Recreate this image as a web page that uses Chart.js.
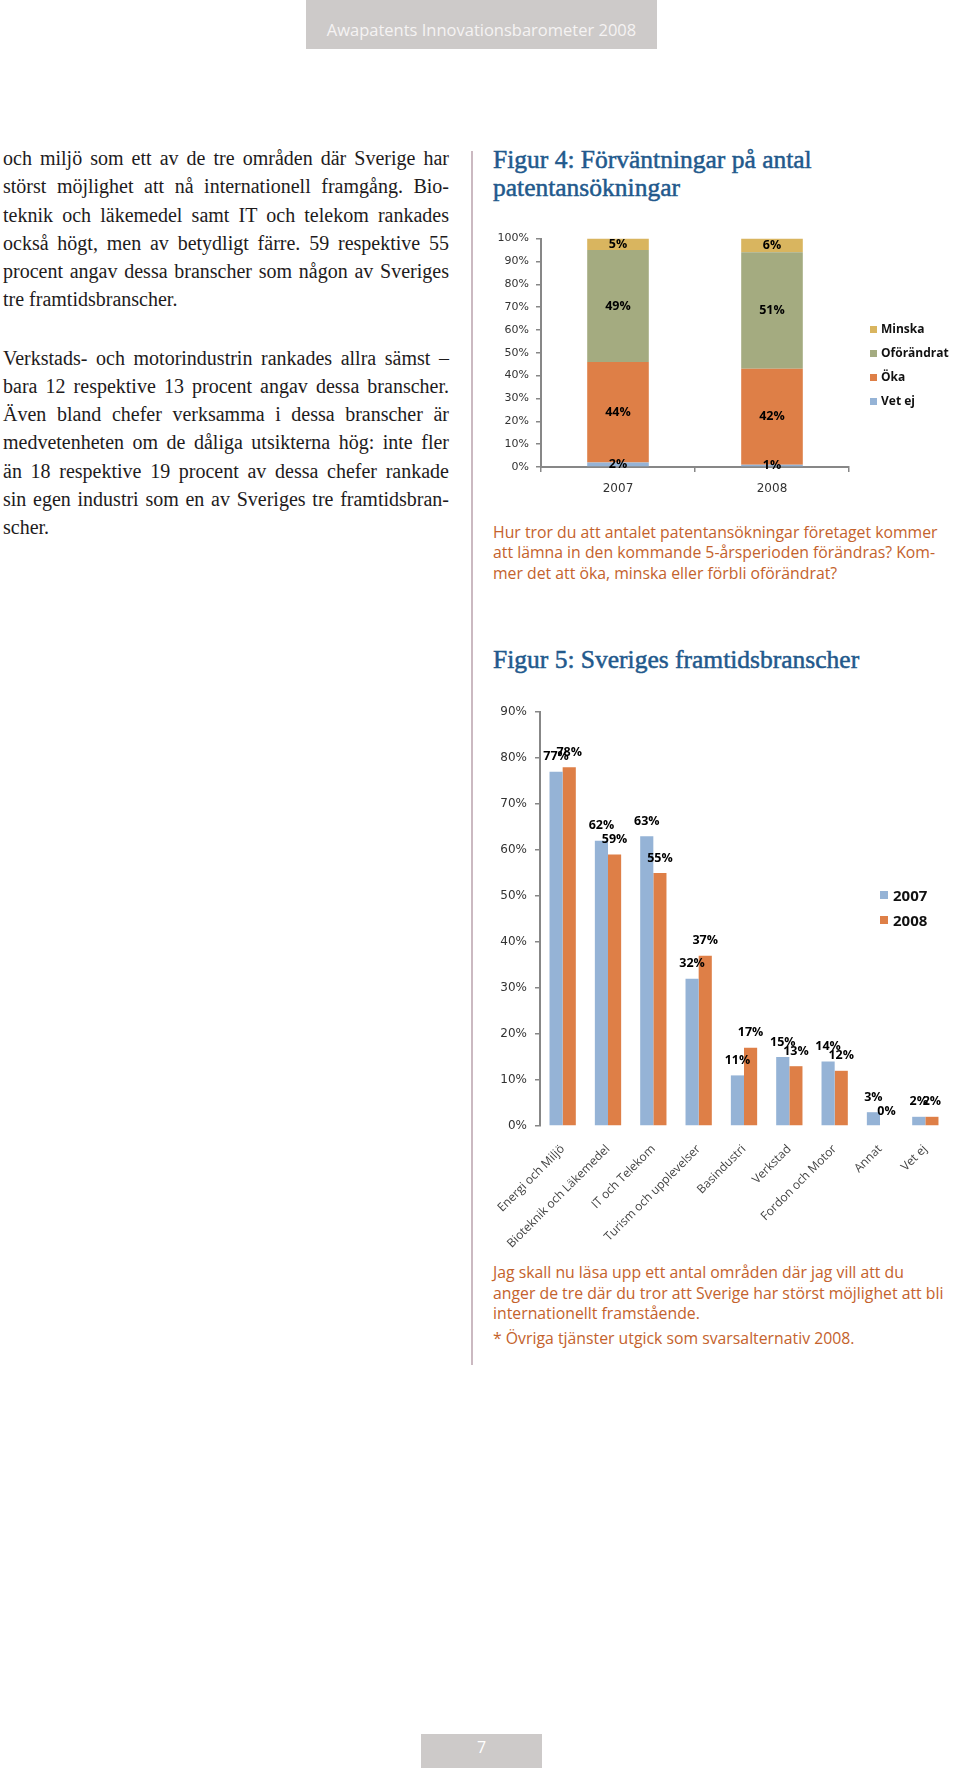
<!DOCTYPE html>
<html lang="sv">
<head>
<meta charset="utf-8">
<title>Awapatents Innovationsbarometer 2008 – sida 7</title>
<script src="https://cdn.jsdelivr.net/npm/chart.js@4.4.1/dist/chart.umd.min.js"></script>
<style>
  html, body { margin: 0; padding: 0; background: #fff; }
  body { width: 960px; height: 1768px; position: relative; overflow: hidden; }
  .abs { position: absolute; }
  .header { left: 306px; top: 0; width: 351px; height: 49px; background: #cdcac9;
    color: #f5f3f3; font: 16.5px "Open Sans", sans-serif; text-align: center;
    line-height: 40px; padding-top: 10px; box-sizing: border-box; }
  .pageno { left: 421px; top: 1734px; width: 121px; height: 34px; background: #cdcac9;
    color: #fff; font: 16px "Open Sans", sans-serif; text-align: center; line-height: 26px; }
  .body-text { left: 3px; width: 446px; font: 20px "Liberation Serif", serif; color: #1e1b1c; line-height: 28.3px; }
  .body-text div { text-align: justify; text-align-last: justify; }
  .body-text div.last { text-align-last: left; }
  .divider { left: 471px; top: 151px; width: 2px; height: 1214px; background: #cbb9c1; }
  .title { left: 493px; font: 25.5px "Liberation Serif", serif; color: #22598c; line-height: 28px;
    white-space: nowrap; -webkit-text-stroke: 0.5px #22598c; }
  .caption { left: 493px; font: 15.8px "Open Sans", sans-serif; color: #c4622c; line-height: 20.5px; white-space: nowrap; }
  .legend { font-family: "Open Sans", sans-serif; font-weight: bold; color: #111; }
  .legend .item { position: absolute; white-space: nowrap; }
  .legend .sw { position: absolute; }
  canvas { position: absolute; }
</style>
</head>
<body>

<div class="abs header">Awapatents Innovationsbarometer 2008</div>

<div class="abs body-text" style="top:144px">
  <div>och miljö som ett av de tre områden där Sverige har</div>
  <div>störst möjlighet att nå internationell framgång. Bio-</div>
  <div>teknik och läkemedel samt IT och telekom rankades</div>
  <div>också högt, men av betydligt färre. 59 respektive 55</div>
  <div>procent angav dessa branscher som någon av Sveriges</div>
  <div class="last">tre framtidsbranscher.</div>
</div>
<div class="abs body-text" style="top:343.5px">
  <div>Verkstads- och motorindustrin rankades allra sämst –</div>
  <div>bara 12 respektive 13 procent angav dessa branscher.</div>
  <div>Även bland chefer verksamma i dessa branscher är</div>
  <div>medvetenheten om de dåliga utsikterna hög: inte fler</div>
  <div>än 18 respektive 19 procent av dessa chefer rankade</div>
  <div>sin egen industri som en av Sveriges tre framtidsbran-</div>
  <div class="last">scher.</div>
</div>

<div class="abs divider"></div>

<div class="abs title" style="top:146px">Figur 4: Förväntningar på antal<br>patentansökningar</div>
<canvas id="figur4" width="480" height="280" style="left:480px; top:225px"></canvas>
<div class="abs legend" id="legend4"></div>
<div class="abs caption" style="top:521.5px">Hur tror du att antalet patentansökningar företaget kommer<br>att lämna in den kommande 5-årsperioden förändras? Kom-<br>mer det att öka, minska eller förbli oförändrat?</div>

<div class="abs title" style="top:646px">Figur 5: Sveriges framtidsbranscher</div>
<canvas id="figur5" width="480" height="560" style="left:480px; top:690px"></canvas>
<div class="abs legend" id="legend5"></div>
<div class="abs caption" style="top:1262px">Jag skall nu läsa upp ett antal områden där jag vill att du<br>anger de tre där du tror att Sverige har störst möjlighet att bli<br>internationellt framstående.</div>
<div class="abs caption" style="top:1328px">* Övriga tjänster utgick som svarsalternativ 2008.</div>

<div class="abs pageno">7</div>

<script>
// Figur 4 - förväntningar på antal patentansökningar (procent)
const years = ['2007', '2008'];
const vetEj = [2, 1];
const oka = [44, 42];
const oforandrat = [49, 51];
const minska = [5, 6];

// Figur 5 - Sveriges framtidsbranscher (procent)
const branscher = ['Energi och Miljö', 'Bioteknik och Läkemedel', 'IT och Telekom',
    'Turism och upplevelser', 'Basindustri', 'Verkstad', 'Fordon och Motor', 'Annat', 'Vet ej'];
const andel2007 = [77, 62, 63, 32, 11, 15, 14, 3, 2];
const andel2008 = [78, 59, 55, 37, 17, 13, 12, 0, 2];

const axisGray = '#878787';
Chart.defaults.font.family = '"DejaVu Sans", sans-serif';
Chart.defaults.color = '#3a3a3a';

// draws "xx%" on every bar
const valueLabels = {
    id: 'valueLabels',
    afterDatasetsDraw(chart, args, opts) {
        const ctx = chart.ctx;
        ctx.save();
        ctx.font = opts.font;
        ctx.fillStyle = '#000';
        ctx.textAlign = 'center';
        ctx.textBaseline = 'middle';
        chart.data.datasets.forEach((ds, i) => {
            chart.getDatasetMeta(i).data.forEach((bar, j) => {
                const y = opts.inside ? (bar.y + bar.base) / 2 : bar.y - opts.offset;
                ctx.fillText(ds.data[j] + '%', bar.x, y);
            });
        });
        ctx.restore();
    }
};

function buildLegend(el, items, x, y0, step, box, size, gap) {
    items.forEach((it, i) => {
        const y = y0 + i * step;
        const sw = document.createElement('div');
        sw.className = 'sw';
        sw.style.cssText = `left:${x}px;top:${y - box / 2}px;width:${box}px;height:${box}px;background:${it.color}`;
        const tx = document.createElement('div');
        tx.className = 'item';
        tx.style.cssText = `left:${x + box + gap}px;top:${y - size * 0.7}px;font-size:${size}px;line-height:${size * 1.4}px`;
        tx.textContent = it.label;
        el.appendChild(sw);
        el.appendChild(tx);
    });
}

function initFigur4() {
    const datasets = [
        { label: 'Vet ej', data: vetEj, backgroundColor: '#95b3d6' },
        { label: 'Öka', data: oka, backgroundColor: '#de7f47' },
        { label: 'Oförändrat', data: oforandrat, backgroundColor: '#a4ab80' },
        { label: 'Minska', data: minska, backgroundColor: '#d9b55f' }
    ];
    new Chart(document.getElementById('figur4'), {
        type: 'bar',
        data: { labels: years, datasets: datasets },
        plugins: [valueLabels],
        options: {
            responsive: false,
            animation: false,
            devicePixelRatio: 1,
            layout: { padding: { top: 10, right: 111, left: 0, bottom: 0 } },
            datasets: { bar: { barPercentage: 0.8, categoryPercentage: 0.5 } },
            plugins: {
                legend: { display: false },
                tooltip: { enabled: false },
                valueLabels: { inside: true, font: 'bold 12.5px "Open Sans"' }
            },
            scales: {
                x: {
                    stacked: true,
                    afterFit: s => { s.height = 38; },
                    grid: { display: true, drawOnChartArea: false, tickLength: 5, color: axisGray, lineWidth: 1.5 },
                    border: { color: axisGray, width: 2 },
                    ticks: { font: { size: 12 }, padding: 10, color: '#333' }
                },
                y: {
                    stacked: true,
                    min: 0, max: 100,
                    afterFit: s => { s.width = 61; },
                    grid: { display: true, drawOnChartArea: false, tickLength: 5, color: axisGray, lineWidth: 1.5 },
                    border: { color: axisGray, width: 2 },
                    ticks: { stepSize: 10, font: { size: 11 }, padding: 7, color: '#333', callback: v => v + '%' }
                }
            }
        }
    });
    buildLegend(document.getElementById('legend4'),
        datasets.slice().reverse().map(d => ({ label: d.label, color: d.backgroundColor })),
        870, 329, 24, 7, 12, 4);
}

function initFigur5() {
    const datasets = [
        { label: '2007', data: andel2007, backgroundColor: '#95b3d6' },
        { label: '2008', data: andel2008, backgroundColor: '#de7f47' }
    ];
    new Chart(document.getElementById('figur5'), {
        type: 'bar',
        data: { labels: branscher, datasets: datasets },
        plugins: [valueLabels],
        options: {
            responsive: false,
            animation: false,
            devicePixelRatio: 1,
            layout: { padding: { top: 22, right: 12, left: 0, bottom: 0 } },
            datasets: { bar: { barPercentage: 1, categoryPercentage: 0.58 } },
            plugins: {
                legend: { display: false },
                tooltip: { enabled: false },
                valueLabels: { inside: false, offset: 15, font: 'bold 12.5px "Open Sans"' }
            },
            scales: {
                x: {
                    afterFit: s => { s.height = 124; },
                    grid: { display: false },
                    border: { display: false },
                    ticks: {
                        autoSkip: false, minRotation: 45, maxRotation: 45, padding: 8,
                        font: { family: '"Open Sans", sans-serif', size: 12 }, color: '#444'
                    }
                },
                y: {
                    min: 0, max: 90,
                    afterFit: s => { s.width = 60; },
                    grid: { display: true, drawOnChartArea: false, tickLength: 5, color: axisGray, lineWidth: 1.5 },
                    border: { color: axisGray, width: 2 },
                    ticks: { stepSize: 10, font: { size: 12 }, padding: 8, color: '#333', callback: v => v + '%' }
                }
            }
        }
    });
    buildLegend(document.getElementById('legend5'),
        datasets.map(d => ({ label: d.label, color: d.backgroundColor })),
        880, 895, 25, 8, 15, 5);
}

document.addEventListener('DOMContentLoaded', function() {
    initFigur4();
    initFigur5();
});
</script>
</body>
</html>
